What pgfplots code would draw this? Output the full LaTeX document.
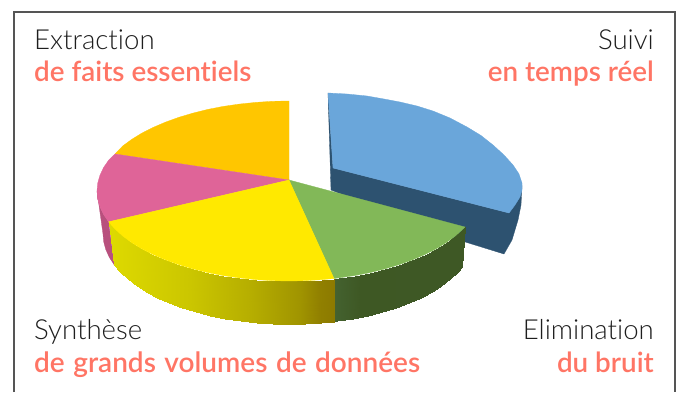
\documentclass[border=0pt]{standalone}
\usepackage{pgfplots}
\pgfplotsset{compat=1.18}
\usepackage{fontspec}
\setmainfont{Lato}
\newfontfamily\lightf[Ligatures=NoCommon]{Lato Light}
\newfontfamily\semif[Ligatures=NoCommon]{Lato Semibold}
\definecolor{coral}{HTML}{FF7565}
\definecolor{ink}{HTML}{1E1E1E}
\definecolor{frame}{HTML}{555555}
\definecolor{cblue}{HTML}{6AA6DA}
\definecolor{cblueside}{HTML}{2D5270}
\definecolor{cgreen}{HTML}{82B858}
\definecolor{cyellow}{HTML}{FFE900}
\definecolor{cpink}{HTML}{DF6498}
\definecolor{cpinkside}{HTML}{B8507D}
\definecolor{corange}{HTML}{FFC600}
\begin{document}
\begin{tikzpicture}
\begin{axis}[
  name=ax,
  hide axis, scale only axis, width=678pt, height=392pt,
  xmin=0, xmax=678, ymin=0, ymax=392, y dir=reverse, clip=false,
  point meta min=100, point meta max=500]
% frame
\addplot[draw=frame, line width=1.1pt] coordinates {(14,392) (14,12) (675,12) (675,392)};
% blue slice side
\addplot[fill=cblueside, draw=cblueside, line width=.3pt] coordinates {
 (328,93) (331,190) (420,225) (462,241) (504,254) (512,240) (518,220) (521,205) (522,186) (509,213) (333,168)} --cycle;
% blue slice top
\addplot[fill=cblue, draw=cblue, line width=.3pt] coordinates {
 (333,168) (328,93) (347,94) (367,96) (384,99) (400,102) (417,106) (433,111) (450,118) (467,127) (481,135.5) (493,145) (504,155) (513,165) (519,174) (522,183) (522,190) (520,197) (515,205) (509,213)} --cycle;
% pink side
\addplot[fill=cpinkside, draw=cpinkside, line width=.3pt] coordinates {
 (97,191) (97.7,198.8) (99.9,206.6) (103.5,214.3) (108.6,221.8) (114.2,264.8) (109.3,257.3) (105.8,249.6) (103.7,241.8) (103,234)} --cycle;
% green side
\addplot[surf, shader=interp, mesh/rows=2, point meta=x,
 colormap={gs}{rgb255(100)=(68,98,48) rgb255(334)=(68,98,48) rgb255(360)=(62,88,36) rgb255(500)=(62,88,38)}]
 table[row sep=\\] {x y\\
 334 278.5\\ 338.7 277.9\\ 354.7 275.6\\ 370.1 272.6\\ 385 268.9\\ 399.1 264.7\\ 412.4 259.9\\ 424.8 254.6\\ 436.1 248.9\\ 446.3 242.6\\ 455.3 236\\ 463 229\\ 465 227\\
 334 321.5\\ 337.1 320.9\\ 352.6 318.6\\ 367.6 315.6\\ 382 311.9\\ 395.7 307.7\\ 408.6 302.9\\ 420.5 297.6\\ 431.5 291.9\\ 441.4 285.6\\ 450.1 279\\ 457.6 272\\ 462 267\\
 };
% yellow side
\addplot[surf, shader=interp, mesh/rows=2, point meta=x,
 colormap={ys}{rgb255(100)=(224,220,0) rgb255(190)=(203,198,0) rgb255(250)=(182,174,0) rgb255(300)=(160,148,0) rgb255(320)=(145,128,0) rgb255(334)=(140,122,0) rgb255(500)=(140,122,0)}]
 table[row sep=\\] {x y\\
 108.6 221.8\\ 115 229\\ 122.7 236\\ 131.7 242.6\\ 141.9 248.9\\ 153.2 254.6\\ 165.6 259.9\\ 178.9 264.7\\ 193 268.9\\ 207.9 272.6\\ 223.3 275.6\\ 239.3 277.9\\ 255.7 279.6\\ 272.3 280.7\\ 289 281\\ 305.7 280.7\\ 322.3 279.6\\ 334 278.5\\
 114.2 264.8\\ 120.4 272\\ 127.9 279\\ 136.6 285.6\\ 146.5 291.9\\ 157.5 297.6\\ 169.4 302.9\\ 182.3 307.7\\ 196 311.9\\ 210.4 315.6\\ 225.4 318.6\\ 240.9 320.9\\ 256.7 322.6\\ 272.8 323.7\\ 289 324\\ 305.2 323.7\\ 321.3 322.6\\ 334 321.5\\
 };
% orange
\addplot[fill=corange, draw=corange, line width=.3pt] coordinates {
 (289,180) (289,101) (272.3,101.3) (255.7,102.4) (239.3,104.1) (223.3,106.4) (207.9,109.4) (193,113.1) (178.9,117.3) (165.6,122.1) (153.2,127.4) (141.9,133.1) (131.7,139.4) (122.7,146) (115,154)} --cycle;
% pink
\addplot[fill=cpink, draw=cpink, line width=.3pt] coordinates {
 (289,180) (115,154) (108.6,160.2) (103.5,167.7) (99.9,175.4) (97.7,183.2) (97,191) (97.7,198.8) (99.9,206.6) (103.5,214.3) (108.6,221.8)} --cycle;
% green
\addplot[fill=cgreen, draw=cgreen, line width=.3pt] coordinates {
 (289,180) (334,278.5) (338.7,277.9) (354.7,275.6) (370.1,272.6) (385,268.9) (399.1,264.7) (412.4,259.9) (424.8,254.6) (436.1,248.9) (446.3,242.6) (455.3,236) (463,229) (465,227)} --cycle;
% yellow
\addplot[fill=cyellow, draw=cyellow, line width=.3pt] coordinates {
 (289,180) (108.6,221.8) (115,229) (122.7,236) (131.7,242.6) (141.9,248.9) (153.2,254.6) (165.6,259.9) (178.9,264.7) (193,268.9) (207.9,272.6) (223.3,275.6) (239.3,277.9) (255.7,279.6) (272.3,280.7) (289,281) (305.7,280.7) (322.3,279.6) (334,278.5)} --cycle;
% labels
\node[anchor=base west, inner sep=0, text=ink, font=\fontsize{27.6}{27.6}\selectfont\lightf] at (axis cs:34,50) {Extraction};
\node[anchor=base west, inner sep=0, text=coral, font=\fontsize{27.8}{27.8}\selectfont\semif] at (axis cs:34,82) {de faits essentiels};
\node[anchor=base east, inner sep=0, text=ink, font=\fontsize{27.6}{27.6}\selectfont\lightf] at (axis cs:654,50) {Suivi};
\node[anchor=base east, inner sep=0, text=coral, font=\fontsize{27.8}{27.8}\selectfont\semif] at (axis cs:654,82) {en temps réel};
\node[anchor=base west, inner sep=0, text=ink, font=\fontsize{27.6}{27.6}\selectfont\lightf] at (axis cs:34,340) {Synthèse};
\node[anchor=base west, inner sep=0, text=coral, font=\fontsize{28}{28}\selectfont\semif] at (axis cs:34,372) {de\hspace{1.5pt} grands\hspace{1.5pt} volumes\hspace{1.5pt} de\hspace{1.5pt} données};
\node[anchor=base east, inner sep=0, text=ink, font=\fontsize{27.6}{27.6}\selectfont\lightf] at (axis cs:654,340) {Elimination};
\node[anchor=base east, inner sep=0, text=coral, font=\fontsize{27.8}{27.8}\selectfont\semif] at (axis cs:654,372) {du bruit};
\end{axis}
\useasboundingbox (ax.south west) rectangle (ax.north east);
\end{tikzpicture}
\end{document}
